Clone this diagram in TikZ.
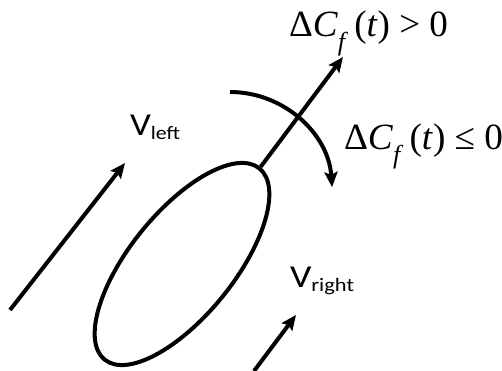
\documentclass[tikz,border=0pt]{standalone}
\usepackage{fontspec}
\usepackage{graphicx}
\newfontfamily\tmsfont{Liberation Serif}
\newfontfamily\calfont{Carlito}
\usetikzlibrary{arrows.meta,shapes.geometric}
\newcommand{\dcf}[1]{\resizebox{159pt}{\height}{\tmsfont\fontsize{37}{37}\selectfont Δ\textit{C}\raisebox{-14pt}{\fontsize{26}{26}\selectfont\textit{f}}\,(\textit{t}) #1 0}}
\begin{document}
\begin{tikzpicture}[x=1pt,y=1pt,line width=4pt,
  arr/.style={-{Stealth[length=15pt,width=13pt,inset=2.5pt]}},
  lbl/.style={anchor=base west,inner sep=0pt},
  body/.style={draw,ellipse,minimum width=246pt,minimum height=104pt,inner sep=0pt,rotate=51}]
\useasboundingbox (0,0) rectangle (502,371);
\node[body] (E) at (182,107) {};
\coordinate (T1) at (343,314);
\draw[arr] (E.east) -- (T1);
\coordinate (A1) at (230,279);
\draw[arr] (A1) arc[start angle=90,end angle=4,radius=102.3];
\coordinate (L0) at (10,61);
\coordinate (L1) at (125,208);
\draw[arr] (L0) -- (L1);
\coordinate (R0) at (254,0);
\coordinate (R1) at (296,56);
\draw[arr] (R0) -- (R1);
\node[lbl] (D1) at (287,334) {\dcf{>}};
\node[lbl] (D2) at (342,221) {\dcf{≤}};
\node[lbl] (VL) at (128,235) {\resizebox{50pt}{\height}{\calfont\fontsize{32}{32}\selectfont V\raisebox{-4pt}{\fontsize{19}{19}\selectfont left}}};
\node[lbl] (VR) at (288,83) {\resizebox{64pt}{\height}{\calfont\fontsize{32}{32}\selectfont V\raisebox{-4pt}{\fontsize{19}{19}\selectfont right}}};
\end{tikzpicture}
\end{document}
